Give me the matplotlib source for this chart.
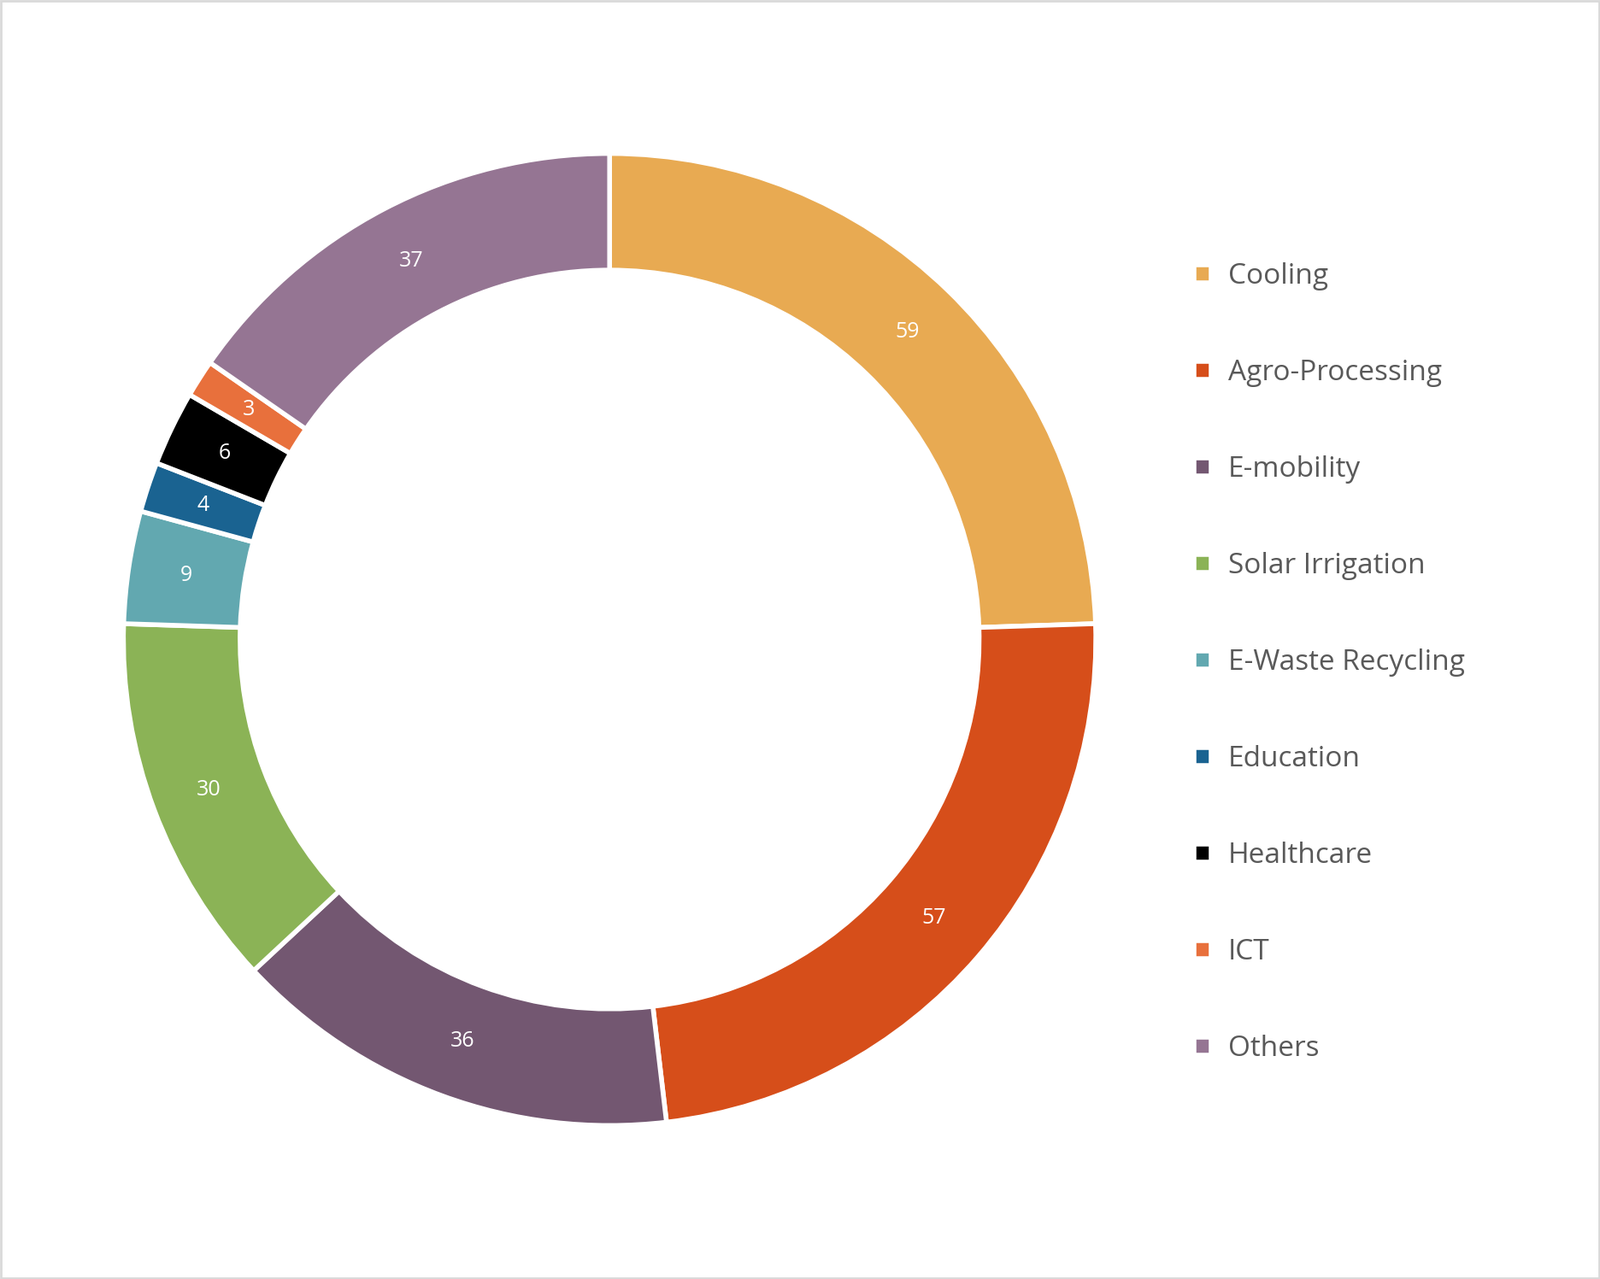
import matplotlib
matplotlib.use("Agg")
import matplotlib.pyplot as plt
from matplotlib.patches import Rectangle

categories = ["Cooling", "Agro-Processing", "E-mobility", "Solar Irrigation",
              "E-Waste Recycling", "Education", "Healthcare", "ICT", "Others"]
values = [59, 57, 36, 30, 9, 4, 6, 3, 37]
colors = ["#E8AA52", "#D64E1A", "#735771", "#8BB356", "#62A8B0",
          "#1A6391", "#000000", "#E8703C", "#957593"]

plt.rcParams["font.family"] = "Open Sans"
fig = plt.figure(figsize=(18.72, 14.97), dpi=100)
fig.patches.append(Rectangle((0.0005, 0.0005), 0.999, 0.999, transform=fig.transFigure,
                             fill=False, edgecolor="#d9d9d9", linewidth=2))

cx, cy, rw, rh = 0.381, 0.5, 0.304, 0.380
ax = fig.add_axes([cx - rw, cy - rh, 2 * rw, 2 * rh])
wedges, texts = ax.pie(values, colors=colors, startangle=90, counterclock=False,
                       radius=1, labels=[str(v) for v in values], labeldistance=0.88,
                       wedgeprops=dict(width=0.24, edgecolor="white", linewidth=4),
                       textprops=dict(color="white", fontsize=18, ha="center", va="center"))
ax.set_xlim(-1.0, 1.0)
ax.set_ylim(-1.0, 1.0)
ax.set_aspect("equal")

fig.legend(wedges, categories, loc="upper left", bbox_to_anchor=(0.73, 0.815),
           frameon=False, fontsize=24, labelspacing=2.4, handlelength=0.6,
           handleheight=0.6, handletextpad=0.6, labelcolor="#595959")
fig.savefig("out.png", dpi=100)
